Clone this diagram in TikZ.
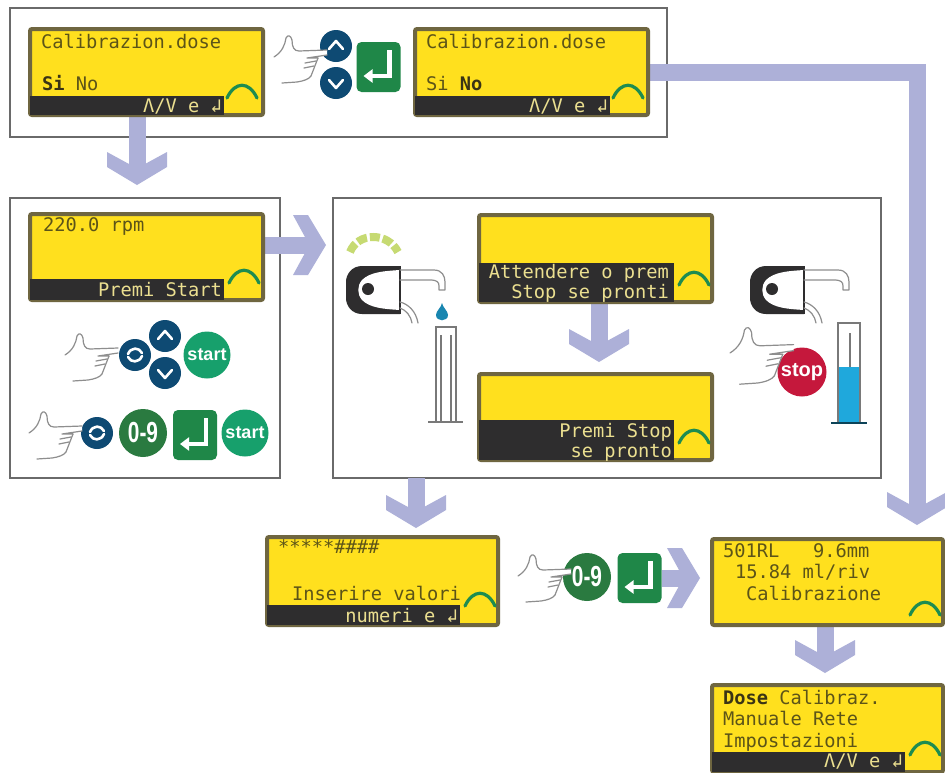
\documentclass[tikz,border=0pt]{standalone}
\usepackage{fontspec}
\setmonofont{DejaVu Sans Mono}
\newfontfamily\btnfont{Liberation Sans}
\usetikzlibrary{arrows.meta}
\definecolor{flowc}{HTML}{ADB0D8}
\definecolor{lcdy}{HTML}{FFE01E}
\definecolor{lcdb}{HTML}{6F6640}
\definecolor{barc}{HTML}{2E2D2E}
\definecolor{txtd}{HTML}{5C5418}
\definecolor{txtb}{HTML}{3A3415}
\definecolor{txtl}{HTML}{EBDF90}
\definecolor{arcg}{HTML}{1E8C50}
\definecolor{navy}{HTML}{0E4A73}
\definecolor{keyg}{HTML}{1F8748}
\definecolor{numg}{HTML}{2A7A40}
\definecolor{startg}{HTML}{17A06C}
\definecolor{stopr}{HTML}{C5183C}
\definecolor{panelc}{HTML}{6A6A6A}
\definecolor{handc}{HTML}{8E8E8E}
\definecolor{waterc}{HTML}{1FA8DC}
\definecolor{pumpg}{HTML}{C6DA72}
\pgfdeclarelayer{panels}
\pgfdeclarelayer{flows}
\pgfsetlayers{panels,flows,main}
\pgfdeclarearrow{
  name=Chev,
  setup code={
    \pgfarrowssettipend{0pt}
    \pgfarrowssetlineend{-20pt}
    \pgfarrowssetvisualbackend{-33pt}
    \pgfarrowssetbackend{-33pt}
    \pgfarrowshullpoint{0pt}{0pt}
    \pgfarrowshullpoint{-33pt}{30pt}
    \pgfarrowshullpoint{-33pt}{-30pt}
  },
  drawing code={
    \pgfsetfillcolor{flowc}
    \pgfpathmoveto{\pgfqpoint{0pt}{0pt}}
    \pgfpathlineto{\pgfqpoint{-18pt}{30pt}}
    \pgfpathlineto{\pgfqpoint{-33pt}{30pt}}
    \pgfpathlineto{\pgfqpoint{-21pt}{8pt}}
    \pgfpathlineto{\pgfqpoint{-21pt}{-8pt}}
    \pgfpathlineto{\pgfqpoint{-33pt}{-30pt}}
    \pgfpathlineto{\pgfqpoint{-18pt}{-30pt}}
    \pgfpathclose
    \pgfusepathqfill
  }
}
\tikzset{
  panel/.style={draw=panelc,line width=2pt,fill=white,inner sep=0pt,outer sep=0pt},
  lcd/.style={draw=lcdb,line width=4pt,fill=lcdy,rounded corners=2pt,inner sep=0pt,outer sep=0pt},
  lcdtext/.style={font=\ttfamily\fontsize{18.7}{20}\selectfont,inner sep=0pt,outer sep=0pt},
  dark/.style={lcdtext,text=txtd},
  light/.style={lcdtext,text=txtl},
  barstyle/.style={fill=barc},
  okarc/.style={draw=arcg,line width=3.2pt,line cap=round},
  flow/.style={draw=flowc,line width=17pt,-{Chev},line join=miter},
  navybtn/.style={circle,fill=navy,inner sep=0pt,outer sep=0pt,minimum size=32pt},
  numbtn/.style={circle,fill=numg,text=white,inner sep=0pt,outer sep=0pt,minimum size=48pt,font=\btnfont\bfseries\fontsize{29}{29}\selectfont},
  startbtn/.style={circle,fill=startg,text=white,inner sep=0pt,outer sep=0pt,minimum size=47pt,font=\btnfont\bfseries\fontsize{18}{18}\selectfont},
  stopbtn/.style={circle,fill=stopr,text=white,inner sep=0pt,outer sep=0pt,minimum size=49pt,font=\btnfont\bfseries\fontsize{20}{20}\selectfont},
  enterkey/.style={rectangle,rounded corners=5pt,fill=keyg,inner sep=0pt,outer sep=0pt,minimum width=44pt,minimum height=50pt},
  glyph/.style={draw=white,line width=2.6pt,line cap=round,line join=round},
  handline/.style={draw=handc,line width=1.2pt,line cap=round,line join=round},
  glassline/.style={draw=handc!85!black,line width=1.1pt},
  hand/.pic={
    \fill[white] (-30,-1) -- (-2,-2) -- (-2,3) -- (-22,6) -- cycle;
    \draw[handline] (-55,5) .. controls (-47,0) and (-44,-7) .. (-43,-14) .. controls (-41,-18) and (-38,-16) .. (-37,-12) .. controls (-37,-5) and (-35,-1) .. (-30,-1) -- (-2,-2);
    \draw[handline] (-2,3) -- (-22,6) -- (-11,6);
    \draw[handline] (-24,11) -- (-13,9);
    \draw[handline] (-25,16) -- (-15,14);
    \draw[handline] (-11,6) -- (-18,24);
    \draw[handline] (-47,31) -- (-32,30) .. controls (-25,29) and (-20,27) .. (-18,24);
  },
  pump/.pic={
    \fill[barc] (54,0) -- (16,0) .. controls (6,0) and (0,8) .. (0,16) -- (0,32) .. controls (0,40) and (6,48) .. (16,48) -- (54,48) -- cycle;
    \fill[white] (54,4) .. controls (38,5) and (24,6) .. (16,14) .. controls (11,20) and (11,28) .. (16,34) .. controls (24,42) and (38,43) .. (54,44) -- cycle;
    \fill[barc] (22,23) circle[radius=6pt];
    \draw[barc,line width=1.2pt] (54,0) -- (54,48);
    \draw[handline] (54,4) -- (88,4) .. controls (96,4) and (99,10) .. (99,16) -- (99,24) -- (93,24) -- (93,20) .. controls (93,16) and (91,14) .. (84,14) -- (54,14);
    \draw[handline] (54,36) .. controls (62,38) and (70,45) .. (72,57);
    \draw[handline] (54,42) .. controls (60,44) and (65,50) .. (66,57);
  }
}
\newcommand\lcdbox[5]{%
  \pgfmathsetmacro\lcdw{#4-#2-4}\pgfmathsetmacro\lcdh{#5-#3-4}%
  \node[lcd,minimum width=\lcdw pt,minimum height=\lcdh pt] (#1) at ({(#2+#4)/2},{(#3+#5)/2}) {};}
\newcommand\lcdarc[2]{\draw[okarc] ({#1-15},{#2+13}) .. controls ({#1-7},{#2-4}) and ({#1+7},{#2-4}) .. ({#1+15},{#2+13});}
\newcommand\txtl[4]{\node[dark,anchor=base west] (#1) at (#2,#3) {#4};}
\newcommand\txtw[4]{\node[light,anchor=base east] (#1) at (#2,#3) {#4};}
\newcommand\upbtn[3]{\node[navybtn] (#1) at (#2,#3) {};
  \draw[glyph] ([shift={(-7,3)}]#1.center) -- ([shift={(0,-5)}]#1.center) -- ([shift={(7,3)}]#1.center);}
\newcommand\downbtn[3]{\node[navybtn] (#1) at (#2,#3) {};
  \draw[glyph] ([shift={(-7,-3)}]#1.center) -- ([shift={(0,5)}]#1.center) -- ([shift={(7,-3)}]#1.center);}
\newcommand\rotbtn[3]{\node[navybtn] (#1) at (#2,#3) {};
  \draw[glyph] ([shift={(-7,-1)}]#1.center) .. controls ([shift={(-4,-8)}]#1.center) and ([shift={(4,-8)}]#1.center) .. ([shift={(7,-2)}]#1.center);
  \draw[glyph] ([shift={(7,1)}]#1.center) .. controls ([shift={(4,8)}]#1.center) and ([shift={(-4,8)}]#1.center) .. ([shift={(-7,2)}]#1.center);}
\newcommand\entbtn[3]{\node[enterkey] (#1) at (#2,#3) {};
  \draw[draw=white,line width=4.5pt,-{Triangle[length=9pt,width=13pt]}] ([shift={(11,-17)}]#1.center) -- ([shift={(11,9)}]#1.center) -- ([shift={(-15,9)}]#1.center);}
\newcommand\numtext{\scalebox{0.72}[1]{0-9}}
\begin{document}
\begin{tikzpicture}[x=1pt,y=-1pt]
\useasboundingbox (0,0) rectangle (945,772);
\begin{pgfonlayer}{panels}
\fill[white] (0,0) rectangle (945,772);
\node[panel,minimum width=657pt,minimum height=129pt] (top) at (338.5,72.5) {};
\node[panel,minimum width=270pt,minimum height=280pt] (left) at (145,338) {};
\node[panel,minimum width=548pt,minimum height=280pt] (mid) at (607,338) {};
\end{pgfonlayer}
% LCD 1
\lcdbox{lcda}{28}{27}{265}{117}
\fill[barstyle] (30,96) rectangle (224,115);
\lcdarc{242}{85}
\txtl{ta1}{41}{48}{Calibrazion.dose}
\txtl{ta2}{42}{90}{\textcolor{txtb}{\bfseries Si} No}
\txtw{ta3}{222}{112}{Λ/V e ↲}
% LCD 2
\lcdbox{lcdb}{413}{27}{650}{117}
\fill[barstyle] (415,96) rectangle (610,115);
\lcdarc{628}{85}
\txtl{tb1}{426}{48}{Calibrazion.dose}
\txtl{tb2}{426}{90}{Si \textcolor{txtb}{\bfseries No}}
\txtw{tb3}{608}{112}{Λ/V e ↲}
% LCD 3
\lcdbox{lcdc}{28}{212}{265}{302}
\fill[barstyle] (30,279) rectangle (224,300);
\lcdarc{244}{270}
\txtl{tc1}{43}{231}{220.0 rpm}
\txtw{tc2}{222}{296}{Premi Start}
% LCD attendere
\lcdbox{lcdd}{477}{213}{714}{304}
\fill[barstyle] (479,263) rectangle (674,302);
\lcdarc{694}{272}
\txtw{td1}{669}{278}{Attendere o prem}
\txtw{td2}{669}{298}{Stop se pronti}
% LCD premi stop
\lcdbox{lcde}{477}{372}{714}{462}
\fill[barstyle] (479,420) rectangle (674,460);
\lcdarc{694}{430}
\txtw{te1}{672}{437}{Premi Stop}
\txtw{te2}{672}{457}{se pronto}
% LCD inserire
\lcdbox{lcdf}{265}{535}{500}{627}
\fill[barstyle] (267,605) rectangle (460,625);
\lcdarc{480}{593}
\txtl{tf1}{278}{553}{*****\#\#\#\#}
\txtl{tf2}{292}{600}{Inserire valori}
\txtw{tf3}{458}{622}{numeri e ↲}
% LCD 501
\lcdbox{lcdg}{710}{537}{945}{627}
\lcdarc{925}{602}
\txtl{tg1}{723}{557}{501RL\ \ \ 9.6mm}
\txtl{tg2}{735}{578}{15.84 ml/riv}
\txtl{tg3}{746}{600}{Calibrazione}
% LCD menu
\lcdbox{lcdh}{710}{683}{945}{774}
\fill[barstyle] (712,752) rectangle (905,772);
\lcdarc{925}{742}
\txtl{th1}{723}{704}{\textcolor{txtb}{\bfseries Dose} Calibraz.}
\txtl{th2}{723}{725}{Manuale Rete}
\txtl{th3}{723}{747}{Impostazioni}
\txtw{th4}{903}{767}{Λ/V e ↲}
% top buttons
\upbtn{bup}{336}{46}
\downbtn{bdn}{336}{83}
\entbtn{ba}{378.5}{67}
\pic at (329,52) {hand};
% left panel row 1
\rotbtn{rot1}{135}{355}
\upbtn{up1}{165}{336}
\downbtn{dn1}{165}{373}
\node[startbtn] (st1) at (207,355) {start};
\pic at (120,350) {hand};
% left panel row 2
\rotbtn{rot2}{97}{433}
\node[numbtn] (num1) at (143,433) {\numtext};
\entbtn{ent2}{195}{435}
\node[startbtn] (st2) at (245,433) {start};
\pic at (84,428) {hand};
% pumps
\pic at (346,266) {pump};
\pic at (750,266) {pump};
\draw[draw=pumpg,line width=8pt,dash pattern=on 10pt off 3pt] (350,252) .. controls (358,232) and (388,232) .. (398,252);
% drop
\fill[waterc!80!black] (442,303) .. controls (443,308) and (448,311) .. (448,315) .. controls (448,322) and (436,322) .. (436,315) .. controls (436,311) and (441,308) .. (442,303) -- cycle;
% left cylinder
\draw[glassline] (436,422) -- (436,327) -- (456,327) -- (456,422);
\draw[glassline] (441,422) -- (441,335);
\draw[glassline] (451,422) -- (451,335);
\draw[glassline,line width=1.8pt] (428,422) -- (463,422);
% right cylinder
\fill[waterc] (839,367) rectangle (859,423);
\draw[glassline] (838,423) -- (838,323) -- (860,323) -- (860,423);
\draw[glassline] (850,367) -- (850,333);
\draw[draw=black!60!waterc,line width=1.8pt] (831,423) -- (867,423);
% stop
\node[stopbtn] (stopb) at (802,372) {stop};
\pic[scale=1.2] at (796,347) {hand};
% bottom buttons
\node[numbtn] (num2) at (587,577) {\numtext};
\entbtn{ent3}{639.5}{578}
\pic at (573,571) {hand};
% connectors
\coordinate (e1) at (137,185);
\coordinate (e2) at (326,245);
\coordinate (e3) at (599,362);
\coordinate (e4) at (416,528);
\coordinate (e5) at (700,578);
\coordinate (e6) at (825,673);
\coordinate (e7) at (917,525);
\begin{pgfonlayer}{flows}
\draw[flow] (lcda.south -| e1) -- (e1);
\draw[flow] (lcdc.east |- e2) -- (e2);
\draw[flow] (lcdd.south -| e3) -- (e3);
\draw[flow] (mid.south -| e4) -- (e4);
\draw[flow] (ent3.east |- e5) -- (e5);
\draw[flow] (lcdg.south -| e6) -- (e6);
\draw[flow] (lcdb.east) -| (e7);
\end{pgfonlayer}
\end{tikzpicture}
\end{document}
